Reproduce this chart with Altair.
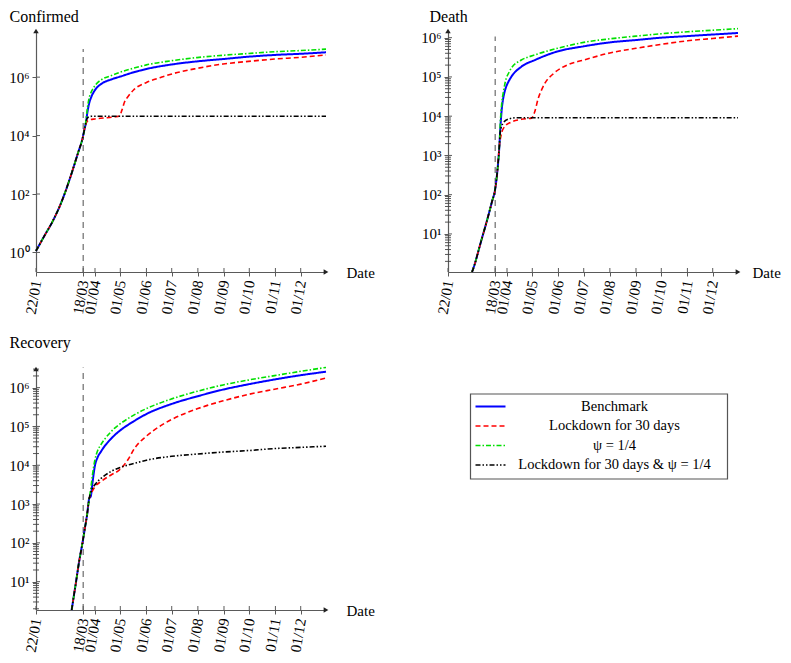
import json
import altair as alt
import pandas as pd

FONT = "Liberation Serif"
AXIS_GRAY = "#5a5a5a"

# ---------------- series definitions ----------------
series_names = ["Benchmark", "Lockdown for 30 days", "ψ = 1/4", "Lockdown for 30 days & ψ = 1/4"]
series_colors = ["#0000ff", "#ff0000", "#00e000", "#000000"]
series_dashes = [[1, 0], [5, 3], [5, 2, 1.5, 2], [5, 2, 1.5, 2, 1.5, 2]]
series_widths = [2.0, 1.6, 1.6, 1.6]

# x axis (days since 22/01)
tick_days = [0, 56, 70, 100, 131, 161, 192, 223, 253, 284, 314]
tick_labels = ["22/01", "18/03", "01/04", "01/05", "01/06", "01/07", "01/08",
               "01/09", "01/10", "01/11", "01/12"]
x_end_day = 344
lockdown_day = 56

# ---------------- Confirmed (log10 values) ----------------
conf_common_days = [0, 10, 20, 30, 40, 50, 55, 58]
conf_common_log = [0.05, 0.57, 1.08, 1.71, 2.51, 3.42, 3.88, 4.28]
conf_bench_days = [59, 61, 63, 66, 71, 78, 89, 100, 115, 131, 160, 191, 222, 252, 283, 314, 344]
conf_bench_log = [4.40, 4.80, 5.10, 5.35, 5.60, 5.78, 5.92, 6.02, 6.16, 6.28, 6.43, 6.54, 6.62, 6.70, 6.76, 6.80, 6.85]
conf_lock_days = [60, 63, 70, 80, 93, 99, 102, 105, 109, 116, 131, 148, 160, 191, 222, 252, 283, 314, 344]
conf_lock_log = [4.45, 4.53, 4.57, 4.60, 4.64, 4.67, 4.88, 5.15, 5.33, 5.57, 5.82, 5.99, 6.10, 6.30, 6.45, 6.54, 6.62, 6.68, 6.76]
conf_psi_days = [59, 61, 63, 66, 71, 78, 89, 100, 115, 131, 160, 191, 222, 252, 283, 314, 344]
conf_psi_log = [4.45, 4.95, 5.28, 5.52, 5.75, 5.92, 6.05, 6.17, 6.30, 6.42, 6.56, 6.67, 6.75, 6.81, 6.87, 6.91, 6.96]
conf_both_days = [60, 62, 66, 100, 200, 344]
conf_both_log = [4.55, 4.63, 4.66, 4.66, 4.66, 4.66]

# ---------------- Death (log10 values) ----------------
death_common_days = [28.5, 32, 36, 40, 44, 48, 52, 56, 59, 61]
death_common_log = [0.03, 0.25, 0.56, 0.87, 1.17, 1.48, 1.81, 2.15, 2.70, 3.26]
death_bench_days = [62, 63, 64, 65, 67, 69, 72, 75, 87, 103, 130, 161, 192, 223, 253, 284, 314, 344]
death_bench_log = [3.67, 3.98, 4.23, 4.39, 4.61, 4.75, 4.89, 5.00, 5.26, 5.43, 5.65, 5.78, 5.88, 5.94, 6.00, 6.04, 6.08, 6.12]
death_lock_days = [62, 63, 67, 75, 87, 99, 103, 107, 111, 115, 126, 142, 161, 192, 223, 253, 284, 314, 344]
death_lock_log = [3.41, 3.52, 3.73, 3.85, 3.92, 3.95, 4.12, 4.45, 4.67, 4.84, 5.10, 5.31, 5.43, 5.61, 5.73, 5.83, 5.92, 5.98, 6.04]
death_psi_days = [62, 63, 64, 65, 67, 69, 72, 75, 87, 103, 130, 161, 192, 223, 253, 284, 314, 344]
death_psi_log = [3.82, 4.13, 4.38, 4.53, 4.77, 4.96, 5.10, 5.22, 5.43, 5.56, 5.73, 5.88, 5.97, 6.04, 6.10, 6.15, 6.19, 6.23]
death_both_days = [62, 65, 71, 81, 200, 344]
death_both_log = [3.60, 3.81, 3.92, 3.96, 3.96, 3.96]

# ---------------- Recovery (log10 values) ----------------
rec_common_days = [42.3, 45, 47.4, 51, 55.3, 58, 60.5, 63.2]
rec_common_log = [0.27, 0.65, 0.98, 1.50, 2.02, 2.38, 2.71, 3.15]
rec_bench_days = [65, 67, 70, 73, 77, 81, 88, 93, 100, 115, 131, 161, 192, 222, 253, 283, 314, 344]
rec_bench_log = [3.20, 3.55, 4.00, 4.20, 4.35, 4.48, 4.66, 4.77, 4.90, 5.12, 5.32, 5.58, 5.78, 5.95, 6.09, 6.21, 6.32, 6.41]
rec_lock_days = [66, 70, 77, 89, 99, 109, 117, 131, 148, 161, 192, 222, 253, 283, 314, 344]
rec_lock_log = [3.30, 3.45, 3.58, 3.75, 3.88, 4.14, 4.44, 4.75, 5.02, 5.18, 5.46, 5.66, 5.83, 5.96, 6.09, 6.25]
rec_psi_days = [65, 67, 70, 73, 77, 81, 88, 93, 100, 115, 131, 161, 192, 222, 253, 283, 314, 344]
rec_psi_log = [3.40, 3.75, 4.15, 4.37, 4.53, 4.66, 4.84, 4.95, 5.07, 5.28, 5.46, 5.71, 5.91, 6.07, 6.20, 6.31, 6.42, 6.52]
rec_both_days = [65, 71, 77, 89, 101, 117, 131, 161, 192, 222, 253, 283, 314, 344]
rec_both_log = [3.30, 3.53, 3.66, 3.84, 3.95, 4.05, 4.13, 4.23, 4.29, 4.34, 4.38, 4.43, 4.46, 4.49]

# axis ranges (log10) and dashed-line tops (log10)
conf_ylog = [-0.67, 7.58]
death_ylog = [0.03, 6.17]
rec_ylog = [0.27, 6.48]
conf_major = [0, 2, 4, 6]
death_major = [1, 2, 3, 4, 5, 6]
rec_major = [1, 2, 3, 4, 5, 6]
vline_tops = [6.96, 6.03, 6.52]

W, H = 290, 241
SUP = ["⁰", "¹", "²", "³", "⁴", "⁵", "⁶", "⁷", "⁸"]


def minor_ticks(lo, hi):
    out = []
    for e in range(-1, 8):
        for m in range(2, 10):
            v = m * 10 ** e
            if 10 ** lo <= v <= 10 ** hi:
                out.append(v)
    return out


def panel(title, common, branches, ylog, major, with_minor, vtop, title_x, title_y, date_gap):
    lo, hi = ylog
    x_label_expr = "%s[indexof(%s, datum.value)]" % (json.dumps(tick_labels), json.dumps(tick_days))
    y_label_expr = "'10' + %s[round(log(datum.value)/LN10)]" % json.dumps(SUP, ensure_ascii=False)
    xenc = alt.X(
        "day:Q",
        scale=alt.Scale(domain=[0, x_end_day], nice=False, zero=False),
        axis=alt.Axis(
            values=tick_days, labelExpr=x_label_expr, labelAngle=280, labelAlign="right",
            labelBaseline="middle", labelPadding=4, labelOverlap=False, labelFlush=False,
            labelFontSize=15, labelFont=FONT, labelColor="black",
            ticks=True, tickSize=4, tickColor=AXIS_GRAY, tickWidth=1,
            grid=False, domainColor=AXIS_GRAY, domainWidth=1.2,
            title="Date", titleAngle=0, titleX=W + date_gap, titleY=0, titleAlign="left",
            titleBaseline="middle", titleFont=FONT, titleFontSize=15, titleFontWeight="normal",
        ),
    )
    yenc = alt.Y(
        "val:Q",
        scale=alt.Scale(type="log", domain=[10 ** lo, 10 ** hi], nice=False),
        axis=alt.Axis(
            values=[10 ** e for e in major], labelExpr=y_label_expr, labelPadding=3,
            labelFontSize=15, labelFont=FONT, labelColor="black", labelOverlap=False,
            labelFlush=False, ticks=True, tickSize=4, tickColor=AXIS_GRAY, tickWidth=1,
            grid=False, domainColor=AXIS_GRAY, domainWidth=1.2,
            title=title, titleAngle=0, titleX=title_x, titleY=title_y, titleAlign="left",
            titleBaseline="alphabetic", titleFont=FONT, titleFontSize=16, titleFontWeight="normal",
        ),
    )
    layers = []
    # lockdown start dashed line
    vdf = pd.DataFrame({"day": [lockdown_day], "val": [10 ** lo], "val2": [10 ** vtop]})
    layers.append(alt.Chart(vdf).mark_rule(color="#777777", strokeDash=[6, 5], strokeWidth=1.3)
                  .encode(x=xenc, y=yenc, y2="val2:Q"))
    # inner halves of the ticks (crossing the axis lines)
    xt = pd.DataFrame({"day": tick_days})
    layers.append(alt.Chart(xt).mark_rule(color=AXIS_GRAY, strokeWidth=1)
                  .encode(x=xenc, y=alt.value(H - 4), y2=alt.value(H)))
    yt = pd.DataFrame({"val": [10 ** e for e in major]})
    layers.append(alt.Chart(yt).mark_rule(color=AXIS_GRAY, strokeWidth=1)
                  .encode(y=yenc, x=alt.value(0), x2=alt.value(4)))
    if with_minor:
        mt = pd.DataFrame({"val": minor_ticks(lo, hi)})
        layers.append(alt.Chart(mt).mark_rule(color="#444444", strokeWidth=0.9)
                      .encode(y=yenc, x=alt.value(-3), x2=alt.value(3)))
    # arrows
    layers.append(alt.Chart(pd.DataFrame({"day": [x_end_day], "val": [10 ** lo]}))
                  .mark_point(shape="triangle-right", filled=True, size=30, color="#222222", opacity=1)
                  .encode(x=xenc, y=yenc))
    layers.append(alt.Chart(pd.DataFrame({"day": [0], "val": [10 ** hi]}))
                  .mark_point(shape="triangle-up", filled=True, size=30, color="#222222", opacity=1)
                  .encode(x=xenc, y=yenc))
    # curves
    cdays, clog = common
    for i, (bd, bl) in enumerate(branches):
        days = list(cdays) + list(bd)
        vals = [10 ** v for v in list(clog) + list(bl)]
        df = pd.DataFrame({"day": days, "val": vals})
        layers.append(alt.Chart(df).mark_line(
            color=series_colors[i], strokeDash=series_dashes[i], strokeWidth=series_widths[i],
            interpolate="monotone").encode(x=xenc, y=yenc))
    return alt.layer(*layers).properties(width=W, height=H)


conf = panel("Confirmed", (conf_common_days, conf_common_log),
             [(conf_bench_days, conf_bench_log), (conf_lock_days, conf_lock_log),
              (conf_psi_days, conf_psi_log), (conf_both_days, conf_both_log)],
             conf_ylog, conf_major, False, vline_tops[0], -27, -10, 20)
death = panel("Death", (death_common_days, death_common_log),
              [(death_bench_days, death_bench_log), (death_lock_days, death_lock_log),
               (death_psi_days, death_psi_log), (death_both_days, death_both_log)],
              death_ylog, death_major, True, vline_tops[1], -19, -10, 14)
rec = panel("Recovery", (rec_common_days, rec_common_log),
            [(rec_bench_days, rec_bench_log), (rec_lock_days, rec_lock_log),
             (rec_psi_days, rec_psi_log), (rec_both_days, rec_both_log)],
            rec_ylog, rec_major, True, vline_tops[2], -27, -22, 20)

# ---------------- legend panel ----------------
LW = 345
leg_scale = alt.Scale(type="point", domain=[0, 1, 2, 3], range=[37.5, 96], padding=0)
leg_layers = [
    alt.Chart(alt.Data(values=[{}])).mark_rect(fill="white", stroke="#555555", strokeWidth=1.2)
    .encode(x=alt.value(75.5), x2=alt.value(332.5), y=alt.value(25), y2=alt.value(110))
]
for i, name in enumerate(series_names):
    d = pd.DataFrame({"idx": [i], "name": [name]})
    leg_layers.append(alt.Chart(d).mark_rule(
        color=series_colors[i], strokeDash=series_dashes[i], strokeWidth=series_widths[i])
        .encode(x=alt.value(80.5), x2=alt.value(110.5), y=alt.Y("idx:O", scale=leg_scale, axis=None)))
leg_text = pd.DataFrame({"idx": list(range(len(series_names))), "name": series_names})
leg_layers.append(alt.Chart(leg_text).mark_text(font=FONT, fontSize=14.5, align="center", baseline="middle", color="black")
                  .encode(text="name:N", x=alt.value(219.5), y=alt.Y("idx:O", scale=leg_scale, axis=None)))
legend = alt.layer(*leg_layers).properties(width=LW, height=H)

top = alt.hconcat(conf, death, spacing=45)
bottom = alt.hconcat(rec, legend, spacing=20)
chart = alt.vconcat(top, bottom, spacing=18).properties(padding=0).configure_view(stroke=None)

chart.save("out.html", embed_options={"renderer": "svg", "actions": False})
